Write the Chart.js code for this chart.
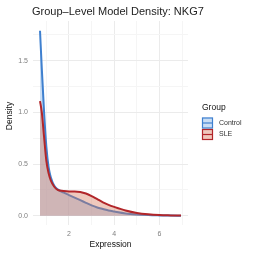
<!DOCTYPE html>
<html>
<head>
<meta charset="utf-8">
<script src="https://cdn.jsdelivr.net/npm/chart.js@4.4.1/dist/chart.umd.min.js"></script>
<style>
  html, body { margin: 0; padding: 0; background: #fff; }
  #wrap { position: relative; width: 254px; height: 254px; }
</style>
</head>
<body>
<div id="wrap"><canvas id="myChart" width="254" height="254"></canvas></div>
<script>
// values
var expression = [0.72, 0.8, 0.9, 1.0, 1.1, 1.2, 1.35, 1.5, 1.75, 2.0, 2.25, 2.5, 2.75, 3.0, 3.25, 3.5, 3.75, 4.0, 4.5, 5.0, 5.5, 6.0, 6.5, 6.95];
var controlDensity = [1.79, 1.42, 1.0, 0.67, 0.47, 0.37, 0.29, 0.255, 0.225, 0.2, 0.175, 0.15, 0.125, 0.1, 0.08, 0.065, 0.05, 0.04, 0.022, 0.012, 0.006, 0.003, 0.001, 0.0];
var sleDensity = [1.11, 1.0, 0.76, 0.53, 0.41, 0.34, 0.28, 0.25, 0.24, 0.235, 0.235, 0.23, 0.215, 0.19, 0.16, 0.13, 0.105, 0.085, 0.05, 0.026, 0.013, 0.006, 0.003, 0.001];
var groups = ['Control', 'SLE'];
var xTicks = [1, 2, 3, 4, 5, 6, 7];
var yTicks = [0, 0.25, 0.5, 0.75, 1.0, 1.25, 1.5, 1.75];

var lineColors = ['#3f80cf', '#b2262a'];
var fillColors = ['rgba(150,190,235,0.5)', 'rgba(215,120,90,0.4)'];

function toPoints(ys) {
  return expression.map(function(x, i) { return { x: x, y: ys[i] }; });
}

var extraText = {
  id: 'extraText',
  afterDraw: function(chart) {
    var c = chart.ctx;
    c.save();
    c.fillStyle = '#222';
    c.font = '11px "Liberation Sans", Arial, sans-serif';
    c.textBaseline = 'middle';
    c.textAlign = 'left';
    c.fillText('Group\u2013Level Model Density: NKG7', 32, 12);

    // y axis title
    c.save();
    c.translate(9.5, 116);
    c.rotate(-Math.PI / 2);
    c.textAlign = 'center';
    c.fillStyle = '#111';
    c.font = '8.5px "Liberation Sans", Arial, sans-serif';
    c.fillText('Density', 0, 0);
    c.restore();

    // legend
    c.font = '8.5px "Liberation Sans", Arial, sans-serif';
    c.fillStyle = '#111';
    c.fillText('Group', 202, 107.5);
    c.font = '7px "Liberation Sans", Arial, sans-serif';
    groups.forEach(function(g, i) {
      var y = 117.5 + i * 11.5;
      c.fillStyle = '#fff';
      c.fillRect(202, y, 11, 11);
      c.fillStyle = fillColors[i];
      c.fillRect(202, y, 11, 11);
      c.strokeStyle = lineColors[i];
      c.lineWidth = 1.2;
      c.strokeRect(202.5, y + 0.5, 10, 10);
      c.beginPath();
      c.moveTo(202.5, y + 5.5);
      c.lineTo(212.5, y + 5.5);
      c.stroke();
      c.fillStyle = '#333';
      c.fillText(g, 219, y + 5.5);
    });
    c.restore();
  }
};

var ctx = document.getElementById('myChart');
var myChart = new Chart(ctx, {
  type: 'line',
  data: {
    datasets: [{
      label: groups[1],
      data: toPoints(sleDensity),
      borderColor: lineColors[1],
      backgroundColor: fillColors[1],
      borderWidth: 2,
      fill: 'origin',
      pointRadius: 0,
      cubicInterpolationMode: 'monotone'
    }, {
      label: groups[0],
      data: toPoints(controlDensity),
      borderColor: lineColors[0],
      backgroundColor: fillColors[0],
      borderWidth: 2,
      fill: 'origin',
      pointRadius: 0,
      cubicInterpolationMode: 'monotone'
    }]
  },
  options: {
    responsive: false,
    animation: false,
    layout: { padding: { top: 21, right: 66, left: 0, bottom: 4 } },
    plugins: {
      legend: { display: false },
      title: { display: false },
      tooltip: { enabled: false }
    },
    scales: {
      x: {
        type: 'linear',
        min: 0.41,
        max: 7.26,
        afterBuildTicks: function(axis) { axis.ticks = xTicks.map(function(v) { return { value: v }; }); },
        afterFit: function(axis) { axis.height = 25; },
        border: { display: false },
        grid: {
          color: function(c) { return c.tick && c.tick.value % 2 === 0 ? '#ebebeb' : '#f5f5f5'; },
          drawTicks: false,
          lineWidth: 1
        },
        ticks: {
          padding: 5,
          color: '#7f7f7f',
          font: { size: 7, family: '"Liberation Sans", Arial, sans-serif' },
          maxRotation: 0,
          autoSkip: false,
          callback: function(v) { return v % 2 === 0 ? String(v) : ''; }
        },
        title: {
          display: true,
          text: 'Expression',
          color: '#111',
          padding: { top: 1, bottom: 0 },
          font: { size: 8.5, family: '"Liberation Sans", Arial, sans-serif' }
        }
      },
      y: {
        min: -0.09,
        max: 1.885,
        afterBuildTicks: function(axis) { axis.ticks = yTicks.map(function(v) { return { value: v }; }); },
        afterFit: function(axis) { axis.width = 33; },
        border: { display: false },
        grid: {
          color: function(c) { return c.tick && Math.round(c.tick.value * 100) % 50 === 0 ? '#ebebeb' : '#f5f5f5'; },
          drawTicks: false,
          lineWidth: 1
        },
        ticks: {
          padding: 5,
          color: '#7f7f7f',
          font: { size: 7, family: '"Liberation Sans", Arial, sans-serif' },
          autoSkip: false,
          callback: function(v) { return Math.round(v * 100) % 50 === 0 ? v.toFixed(1) : ''; }
        }
      }
    }
  },
  plugins: [extraText]
});
</script>
</body>
</html>
